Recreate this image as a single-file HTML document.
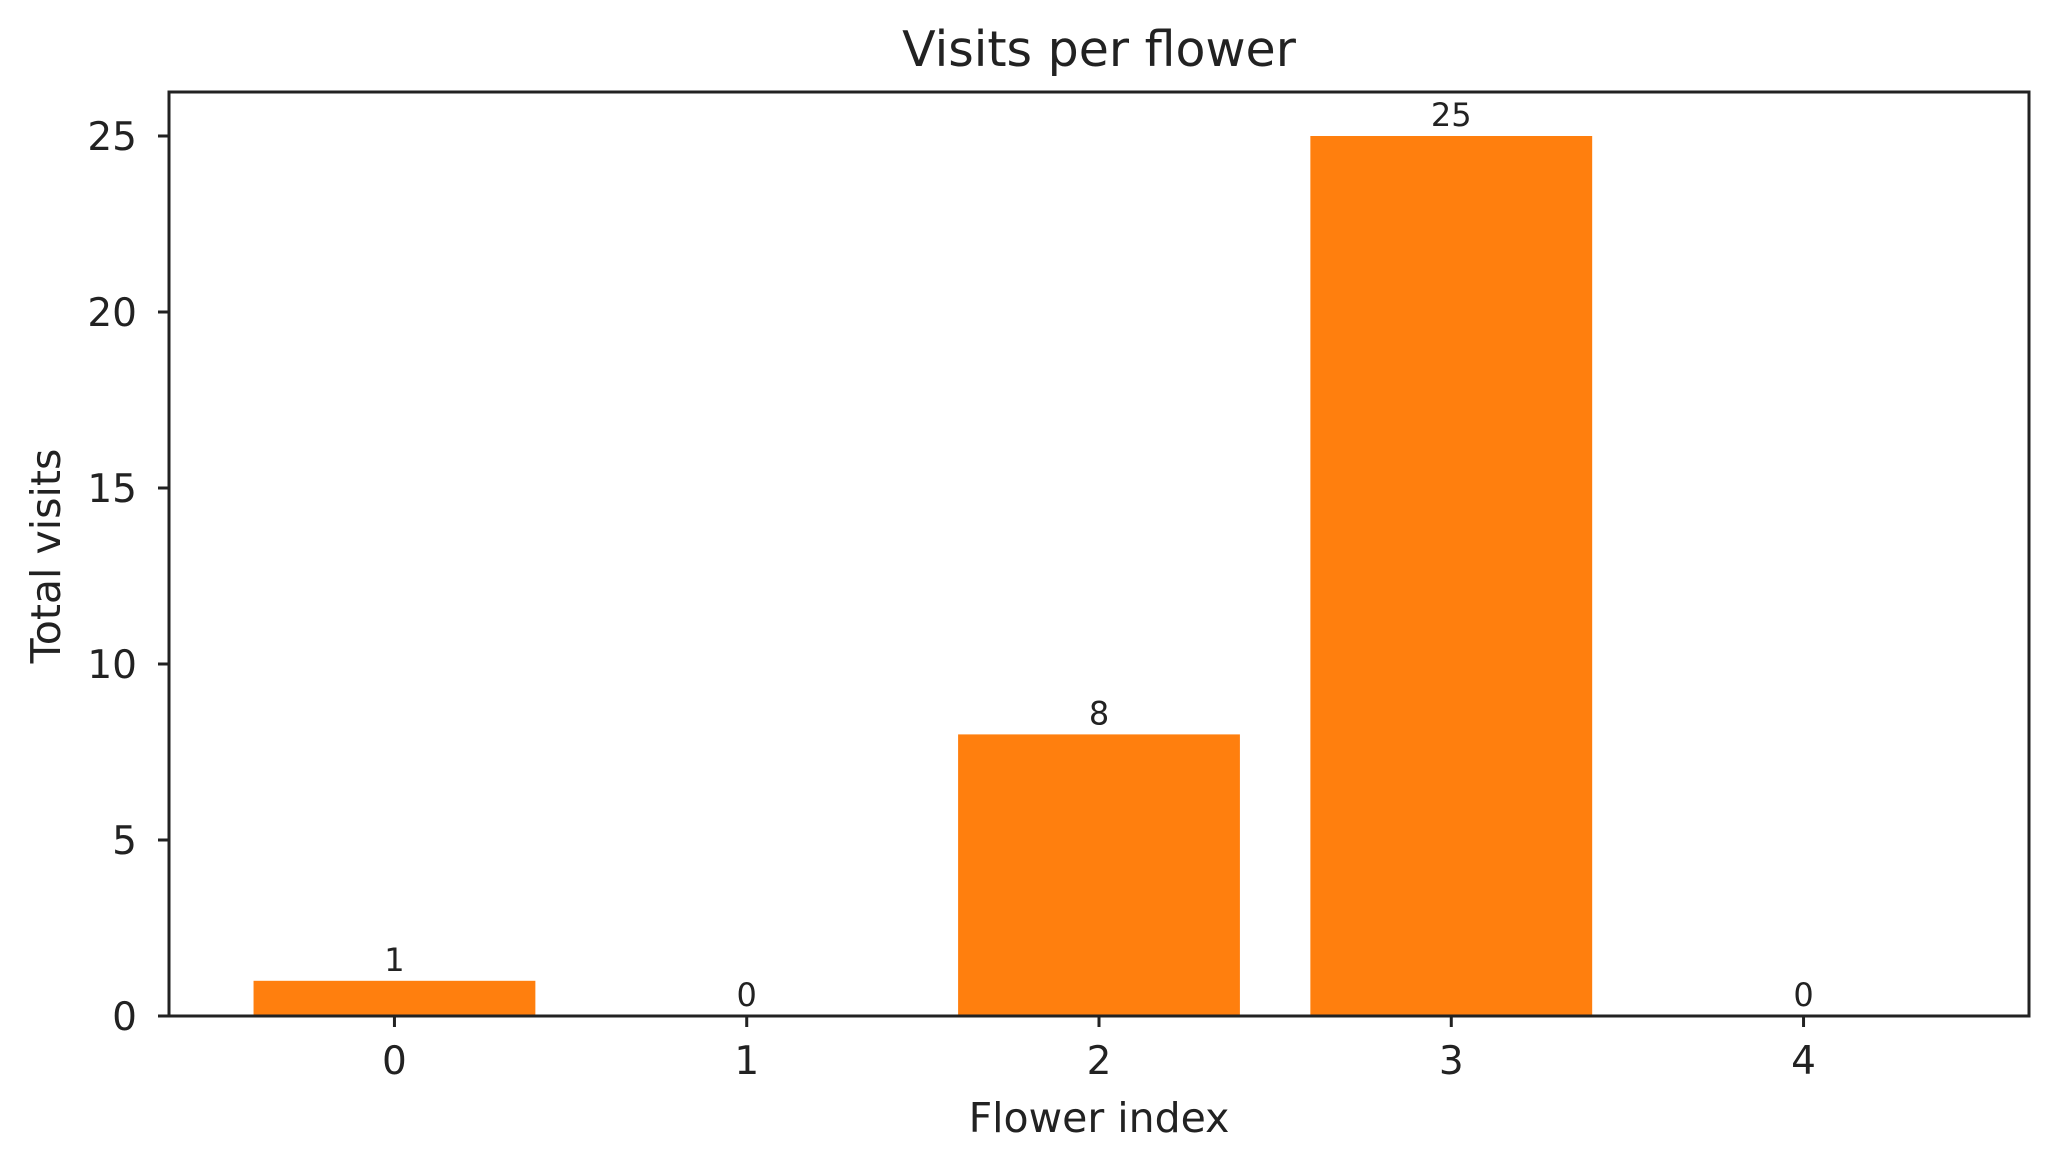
<!DOCTYPE html>
<html><head><meta charset="utf-8"><style>
html,body{margin:0;padding:0;background:#fff;}
svg{display:block;font-family:"DejaVu Sans","Liberation Sans",sans-serif;}
</style></head><body>
<svg id="chart" width="2058" height="1172" viewBox="0 0 2058 1172" xmlns="http://www.w3.org/2000/svg">
<rect width="2058" height="1172" fill="#fff"/>
<text x="1099" y="66" font-size="49" text-anchor="middle" fill="#222">Visits per flower</text>
<text x="1099" y="1132" font-size="41" text-anchor="middle" fill="#222">Flower index</text>
<text transform="translate(60,556) rotate(-90)" font-size="41" text-anchor="middle" fill="#222">Total visits</text>
<g id="marks"></g>
<g id="axes"></g>
</svg>
<script>
const categories = [0, 1, 2, 3, 4];
const visits = [1, 0, 8, 25, 0];
const yTicks = [0, 5, 10, 15, 20, 25];

const L = 169, R = 2029, T = 92, B = 1016;
const xMin = -0.64, xMax = 4.64, yMax = 26.25;
const barW = 0.8;
function xs(v){ return L + (v - xMin) / (xMax - xMin) * (R - L); }
function ys(v){ return B - v / yMax * (B - T); }
const NS = 'http://www.w3.org/2000/svg';
function mk(tag, attrs, parent){ const e = document.createElementNS(NS, tag); for (const k in attrs) e.setAttribute(k, attrs[k]); parent.appendChild(e); return e; }
const marks = document.getElementById('marks');
const axes = document.getElementById('axes');

categories.forEach((c, i) => {
  const v = visits[i];
  const x0 = xs(c - barW/2), x1 = xs(c + barW/2);
  const r = mk('rect', {x: x0, y: ys(v), width: x1 - x0, height: B - ys(v), fill: '#ff7f0e'}, marks);
  
  
  const t = mk('text', {x: xs(c), y: ys(v) - 10, 'font-size': 32, 'text-anchor': 'middle', fill: '#222'}, marks);
  t.textContent = String(v);
  
  
  const tk = mk('line', {x1: xs(c), x2: xs(c), y1: B, y2: B + 11, stroke: '#222', 'stroke-width': 3}, axes);
  
  
  const tl = mk('text', {x: xs(c), y: B + 58, 'font-size': 39, 'text-anchor': 'middle', fill: '#222'}, axes);
  tl.textContent = String(c);
  
  
});

yTicks.forEach(v => {
  const tk = mk('line', {x1: L - 11, x2: L, y1: ys(v), y2: ys(v), stroke: '#222', 'stroke-width': 3}, axes);
  
  
  const tl = mk('text', {x: L - 32, y: ys(v) + 14, 'font-size': 39, 'text-anchor': 'end', fill: '#222'}, axes);
  tl.textContent = String(v);
  
  
});

const frame = mk('rect', {x: L, y: T, width: R - L, height: B - T, fill: 'none', stroke: '#222', 'stroke-width': 3}, axes);


</script>
</body></html>
